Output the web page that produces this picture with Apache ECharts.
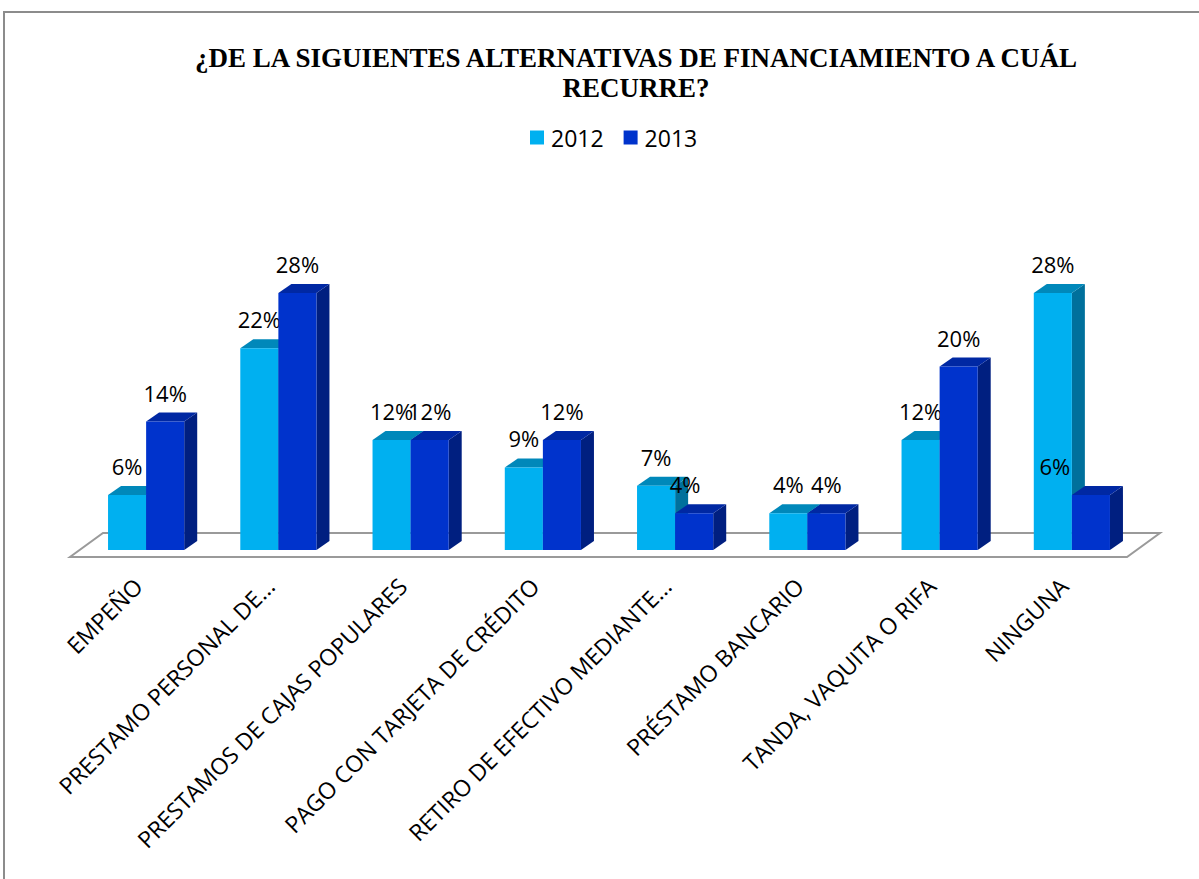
<!DOCTYPE html>
<html>
<head>
<meta charset="utf-8">
<script src="https://cdn.jsdelivr.net/npm/echarts@6/dist/echarts.min.js"></script>
<style>
html, body { margin: 0; padding: 0; background: #fff; }
#chart { width: 1199px; height: 879px; }
</style>
</head>
<body>
<div id="chart"></div>
<script>
// datos
const categories = [
    'EMPEÑO',
    'PRESTAMO PERSONAL DE...',
    'PRESTAMOS DE CAJAS POPULARES',
    'PAGO CON TARJETA DE CRÉDITO',
    'RETIRO DE EFECTIVO MEDIANTE...',
    'PRÉSTAMO BANCARIO',
    'TANDA, VAQUITA O RIFA',
    'NINGUNA'
];
const values2012 = [6, 22, 12, 9, 7, 4, 12, 28];
const values2013 = [14, 28, 12, 12, 4, 4, 20, 6];
const seriesNames = ['2012', '2013'];
const titleText = '¿DE LA SIGUIENTES ALTERNATIVAS DE FINANCIAMIENTO A CUÁL\nRECURRE?';

// estilo: frente / tapa / lado de cada barra
const palette = {
    '2012': { front: '#00B0F0', top: '#0088BA', side: '#00709C' },
    '2013': { front: '#0033CC', top: '#0028A3', side: '#001F80' }
};
const depth = [13, -9];        // profundidad de las barras
const floorDepth = [33, -24];  // profundidad del piso
const labelShift = { '2013': { 4: -9, 7: -36 } }; // etiquetas movidas a mano en el original
const labelFont = '22px "Open Sans"';

function barRenderer(name, left) {
    return function (params, api) {
        const idx = api.value(0);
        const val = api.value(1);
        const top = api.coord([idx, val]);
        const base = api.coord([idx, 0]);
        const w = api.size([1, 0])[0] * 0.288;
        const x0 = left ? top[0] - w : top[0];
        const x1 = x0 + w;
        const yT = top[1], yB = base[1];
        const dx = depth[0], dy = depth[1];
        const c = palette[name];
        const shift = (labelShift[name] && labelShift[name][idx]) || 0;
        return {
            type: 'group',
            children: [
                { type: 'polygon', shape: { points: [[x1, yT], [x1 + dx, yT + dy], [x1 + dx, yB + dy], [x1, yB]] }, style: { fill: c.side } },
                { type: 'polygon', shape: { points: [[x0, yT], [x1, yT], [x1 + dx, yT + dy], [x0 + dx, yT + dy]] }, style: { fill: c.top } },
                { type: 'rect', shape: { x: x0, y: yT, width: w, height: yB - yT }, style: { fill: c.front } },
                { type: 'text', x: (x0 + x1) / 2 + shift, y: yT - 29, style: { text: val + '%', fill: '#000', font: labelFont, align: 'center', verticalAlign: 'middle' } }
            ]
        };
    };
}

//piso en perspectiva
function floorRenderer(params, api) {
    const cs = params.coordSys;
    const fy = cs.y + cs.height + 7;
    const fx0 = cs.x - 10;
    const fx1 = cs.x + cs.width - 11;
    const bx = floorDepth[0], by = floorDepth[1];
    return {
        type: 'polygon',
        shape: { points: [[fx0, fy], [fx1, fy], [fx1 + bx, fy + by], [fx0 + bx, fy + by]] },
        style: { fill: '#fff', stroke: '#9a9a9a', lineWidth: 2 }
    };
}

const chart = echarts.init(document.getElementById('chart'), null, { renderer: 'svg' });

const option = {
    animation: false,
    backgroundColor: '#fff',
    title: {
        text: titleText,
        left: 636,
        top: 43,
        padding: 0,
        textAlign: 'center',
        textStyle: { fontFamily: 'Liberation Serif', fontWeight: 'bold', fontSize: 27, lineHeight: 30, color: '#000' }
    },
    legend: {
        data: seriesNames,
        left: 530,
        top: 126,
        padding: 0,
        icon: 'rect',
        itemWidth: 14,
        itemHeight: 14,
        itemGap: 20,
        textStyle: { fontFamily: 'Open Sans', fontSize: 23, color: '#000', lineHeight: 23, padding: [0, 0, 0, 2] }
    },
    graphic: [{
        type: 'rect',
        silent: true,
        z: -10,
        shape: { x: 4, y: 12, width: 1400, height: 1000 },
        style: { fill: 'none', stroke: '#8c8c8c', lineWidth: 2 }
    }],
    grid: { left: 80, right: 61, top: 183, bottom: 329, outerBoundsMode: 'none' },
    xAxis: {
        type: 'category',
        data: categories,
        axisLine: { show: false },
        axisTick: { show: false },
        axisLabel: { rotate: 45, margin: 40, interval: 0, verticalAlign: 'bottom', fontFamily: 'Open Sans', fontSize: 23, color: '#000' }
    },
    yAxis: { type: 'value', min: 0, max: 40, show: false, splitLine: { show: false } },
    series: [
        { type: 'custom', name: 'piso', silent: true, z: 1, data: [[0, 0]], renderItem: floorRenderer },
        {
            type: 'custom', name: seriesNames[0], z: 2,
            itemStyle: { color: palette['2012'].front },
            data: values2012.map((v, i) => [i, v]),
            encode: { x: 0, y: 1 },
            renderItem: barRenderer('2012', true)
        },
        {
            type: 'custom', name: seriesNames[1], z: 3,
            itemStyle: { color: palette['2013'].front },
            data: values2013.map((v, i) => [i, v]),
            encode: { x: 0, y: 1 },
            renderItem: barRenderer('2013', false)
        }
    ]
};

chart.setOption(option);
</script>
</body>
</html>
